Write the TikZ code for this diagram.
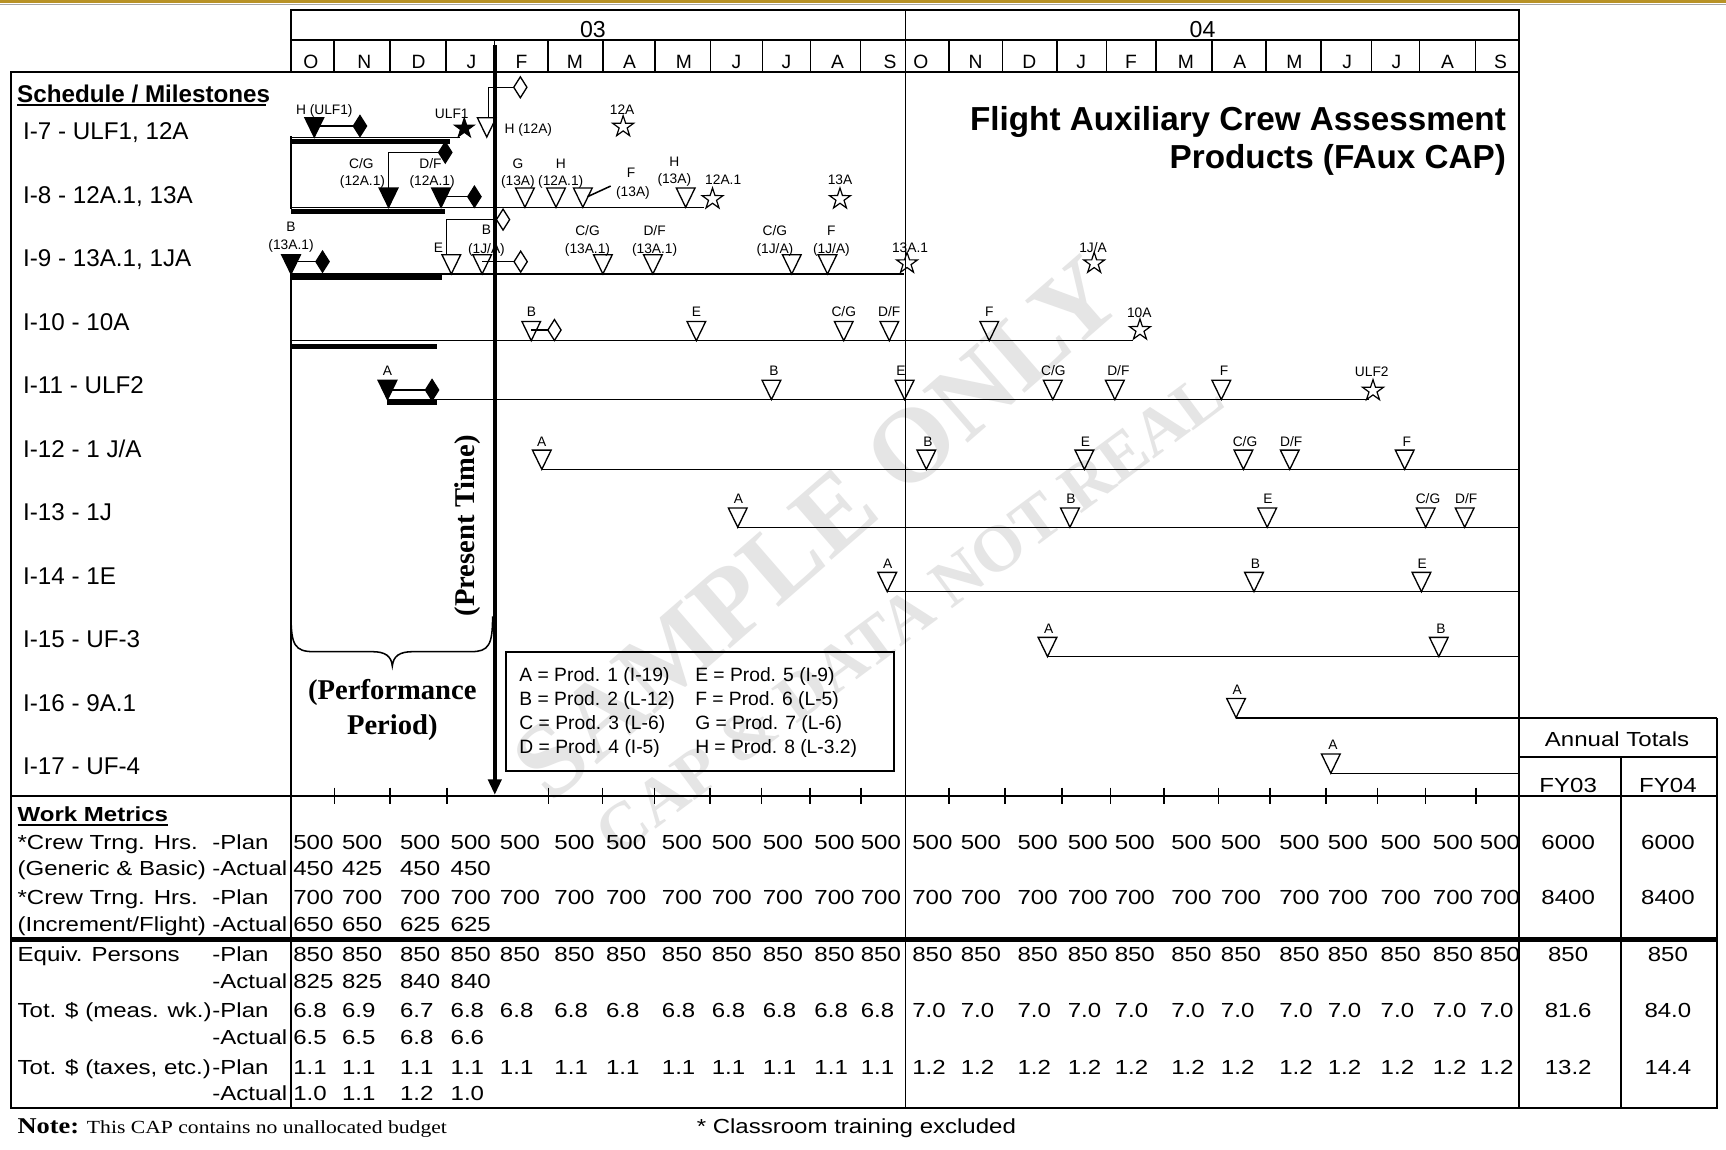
\documentclass[tikz,border=0pt]{standalone}
\usepackage{fontspec}
\setmainfont{Liberation Sans}
\newfontfamily\wf[FakeStretch=1.18]{Liberation Sans}
\newfontfamily\tmf{Liberation Serif}
\newfontfamily\tmwf[FakeStretch=1.17]{Liberation Serif}
\usetikzlibrary{shapes.geometric,arrows.meta}
\definecolor{goldbar}{RGB}{184,146,38}
\definecolor{wmark}{RGB}{229,229,229}
\newcounter{nn}
\newcommand\lab[3]{\stepcounter{nn}\node[sm] (lab\thenn) at (#1,#2) {#3};}
\newcommand\otri[2]{\draw[mk] ({#1-8.5},{#2-17.5}) -- ({#1+8.5},{#2-17.5}) -- (#1,#2) -- cycle;}
\newcommand\ftri[2]{\filldraw[mk] ({#1-8.5},{#2-17.5}) -- ({#1+8.5},{#2-17.5}) -- (#1,#2) -- cycle;}
\newcommand\odia[2]{\draw[mk] ({#1-6},#2) -- (#1,{#2-9.5}) -- ({#1+6},#2) -- (#1,{#2+9.5}) -- cycle;}
\newcommand\fdia[2]{\filldraw[mk] ({#1-6},#2) -- (#1,{#2-9.5}) -- ({#1+6},#2) -- (#1,{#2+9.5}) -- cycle;}
\begin{document}
\begin{tikzpicture}[x=1pt,y=-1pt,
  every node/.style={inner sep=0pt,outer sep=0pt},
  ln/.style={line width=1.6pt},
  bl/.style={line width=1.4pt},
  thickbar/.style={line width=4.3pt},
  mk/.style={line width=1.2pt,line join=miter},
  st/.style={star,star points=5,star point ratio=2.6,minimum size=20pt,inner sep=0pt,line width=1.1pt,draw},
  rl/.style={anchor=base west,font=\fontsize{22}{26}\selectfont},
  mon/.style={anchor=base,font=\fontsize{17.5}{20}\selectfont},
  yr/.style={anchor=base,font=\fontsize{21}{24}\selectfont},
  sm/.style={anchor=base,font=\fontsize{12.5}{14}\selectfont},
  tb/.style={anchor=base west,font=\wf\fontsize{18.5}{22}\selectfont},
  tbc/.style={anchor=base,font=\wf\fontsize{18.5}{22}\selectfont},
  leg/.style={anchor=base west,font=\fontsize{17.5}{20}\selectfont},
  serifb/.style={anchor=base,font=\tmf\bfseries\fontsize{26}{30}\selectfont}]
\useasboundingbox (0,0) rectangle (1568,1044);
\fill[white] (0,0) rectangle (1568,1044);
\fill[goldbar] (0,0) rectangle (1568,3);
\draw[black!35,line width=1pt] (0,4.3) -- (1568,4.3);

% watermark
\node[font=\tmf\bfseries\fontsize{96}{100}\selectfont,text=wmark,rotate=41] (wm1) at (742,480) {SAMPLE ONLY};
\node[font=\tmf\bfseries\fontsize{60}{64}\selectfont,text=wmark,rotate=36.6] (wm2) at (826,558) {CAP \& DATA NOT REAL};

% header box
\draw[ln] (264.4,65.1) -- (264.4,9.1) -- (1380.2,9.1) -- (1380.2,1006.8);
\draw[ln] (264.4,36.3) -- (1380.2,36.3);
\draw[ln] (264.4,65.1) -- (1380.2,65.1);
\draw[ln] (822.5,9.1) -- (822.5,1006.8);
\foreach \x in {303.4,354.6,405.5,449.3,497.8,547.6,595.3,645.5,692.6,736.4,781.8,862.1,910.7,960.2,1005.3,1049.9,1100.9,1150.4,1199.9,1245.9,1289.5,1340.5}
  \draw[ln] (\x,36.3) -- (\x,65.1);
\node[yr] (y03) at (538.6,34.1) {03};
\node[yr] (y04) at (1092.5,34.1) {04};
\foreach \x/\m [count=\i] in {282.3/O,330.9/N,380.3/D,428.3/J,473.7/F,522.3/M,572/A,621.3/M,669/J,714.4/J,760.8/A,808.5/S,836.5/O,886.2/N,935.2/D,982.3/J,1027.4/F,1077.4/M,1126.4/A,1175.9/M,1223.9/J,1268.5/J,1315/A,1363.1/S}
  \node[mon] (mo\i) at (\x,62.3) {\m};

% left panel and lower table frame
\draw[ln] (264.4,65.1) -- (9.7,65.1) -- (9.7,1006.8) -- (1560,1006.8) -- (1560,652);
\draw[ln] (264.4,124) -- (264.4,190);
\draw[ln] (264.4,248) -- (264.4,1006.8);
\draw[ln] (9.7,723) -- (1560,723);
\foreach \x in {303.8,354.5,406.2,498.4,547.4,594.4,645,691.9,735.6,782,862.2,913.2,965,1008.8,1057.5,1107,1153.7,1204.5,1251.3,1295,1341}
  \draw[bl] (\x,715.5) -- (\x,730);
\draw[line width=4.5pt] (9.7,853.3) -- (1560,853.3);
\draw[ln] (1380.2,688) -- (1560,688);
\draw[ln] (1472.5,688) -- (1472.5,1006.8);

% title
\node[anchor=base east,font=\bfseries\fontsize{30.2}{34}\selectfont] (t1) at (1368,118.2) {Flight Auxiliary Crew Assessment};
\node[anchor=base east,font=\bfseries\fontsize{30.2}{34}\selectfont] (t2) at (1368,153) {Products (FAux CAP)};

% left labels
\node[rl,font=\bfseries\fontsize{22}{26}\selectfont] (sched) at (15.6,92.7) {Schedule / Milestones};
\draw[line width=1.8pt] (15.6,95.6) -- (241.7,95.6);
\node[rl] (r7) at (21,126.9) {I-7 - ULF1, 12A};
\node[rl] (r8) at (21,184.6) {I-8 - 12A.1, 13A};
\node[rl] (r9) at (21,242.3) {I-9 - 13A.1, 1JA};
\node[rl] (r10) at (21,300) {I-10 - 10A};
\node[rl] (r11) at (21,357.7) {I-11 - ULF2};
\node[rl] (r12) at (21,415.4) {I-12 - 1 J/A};
\node[rl] (r13) at (21,473.1) {I-13 - 1J};
\node[rl] (r14) at (21,530.8) {I-14 - 1E};
\node[rl] (r15) at (21,588.5) {I-15 - UF-3};
\node[rl] (r16) at (21,646.2) {I-16 - 9A.1};
\node[rl] (r17) at (21,703.9) {I-17 - UF-4};

% ---------- I-7
\draw[bl] (264.4,125) -- (418,125);
\draw[thickbar] (264.4,128.7) -- (408.8,128.7);
\ftri{285.5}{124.5}
\draw[bl] (285.5,114.5) -- (321,114.5);
\fdia{327}{114.5}
\lab{294.6}{103.8}{H (ULF1)}
\node[st,fill=black,minimum size=18.5pt] (sULF1) at (421.8,116.6) {};
\lab{410.4}{107.5}{ULF1}
\otri{442.2}{124.5}
\draw[bl] (443.8,107) -- (443.8,79.3) -- (466.7,79.3);
\odia{472.7}{79.3}
\lab{480}{121.1}{H (12A)}
\node[st] (s12A) at (566.1,115.1) {};
\lab{565.2}{103.8}{12A}

% ---------- I-8
\draw[bl] (264.4,188.3) -- (640,188.3);
\draw[thickbar] (264.4,192) -- (404.3,192);
\fdia{404.5}{138.5}
\draw[bl] (398.5,138.5) -- (353,138.5) -- (353,170.8);
\ftri{353}{188.3}
\ftri{400.7}{188.3}
\draw[bl] (400.7,178.7) -- (425,178.7);
\fdia{431}{178.7}
\lab{328.3}{152.9}{C/G} \lab{329.3}{168.9}{(12A.1)}
\lab{391}{152.9}{D/F} \lab{392.6}{168.9}{(12A.1)}
\foreach \x in {476.9,505.1,529.5,622.9} {\otri{\x}{188.3}}
\lab{470.5}{152.9}{G} \lab{470.5}{168.9}{(13A)}
\lab{509.4}{152.9}{H} \lab{509.4}{168.9}{(12A.1)}
\draw[bl] (533.7,178.7) -- (554.8,169);
\lab{573.3}{161.4}{F} \lab{575}{178.6}{(13A)}
\lab{612.6}{151.4}{H} \lab{612.6}{166.5}{(13A)}
\node[st] (s12A1) at (647.3,180.8) {};
\lab{657}{168}{12A.1}
\node[st] (s13A) at (763.1,180.8) {};
\lab{763.1}{168}{13A}

% ---------- I-9
\draw[bl] (264.4,248.9) -- (821.5,248.9);
\draw[thickbar] (264.4,251.8) -- (401.5,251.8);
\ftri{264.4}{248.9}
\draw[bl] (264.4,237.7) -- (287,237.7);
\fdia{293}{237.7}
\lab{264.4}{210.4}{B} \lab{264.4}{227.1}{(13A.1)}
\odia{457}{199.5}
\draw[bl] (451,199.5) -- (405.8,199.5) -- (405.8,231.4);
\otri{410}{248.9}
\lab{398.4}{229.2}{E}
\otri{438}{248.9}
\draw[bl] (438,237.7) -- (467,237.7);
\odia{473}{237.7}
\lab{441.9}{212.8}{B} \lab{441.9}{230.1}{(1J/A)}
\foreach \x in {547.7,593.1,719.3,751.7} {\otri{\x}{248.9}}
\lab{533.7}{214}{C/G} \lab{533.7}{230.1}{(13A.1)}
\lab{594.7}{214}{D/F} \lab{594.7}{230.1}{(13A.1)}
\lab{704}{214}{C/G} \lab{704}{230.1}{(1J/A)}
\lab{755.3}{214}{F} \lab{755.3}{230.1}{(1J/A)}
\node[st] (s13A1) at (824,239.2) {};
\lab{826.7}{229.2}{13A.1}
\node[st] (s1JA) at (994,239.2) {};
\lab{993}{229.2}{1J/A}

% ---------- I-10
\draw[bl] (264.4,309.5) -- (1029.6,309.5);
\draw[thickbar] (264.4,314.5) -- (396.6,314.5);
\foreach \x in {482.6,632.6,766.5,807.9,898.7} {\otri{\x}{309.5}}
\draw[bl] (482.6,299.8) -- (497.7,299.8);
\odia{503.7}{299.8}
\foreach \x/\t [count=\i] in {482.9/B,632.6/E,766.5/{C/G},807.9/{D/F},898.7/F}
  \node[sm] (ra\i) at (\x,287.6) {\t};
\node[st] (s10A) at (1035.6,299.8) {};
\lab{1035}{288.5}{10A}

% ---------- I-11
\draw[bl] (352,363) -- (1243.5,363);
\draw[thickbar] (352,365.4) -- (396.6,365.4);
\ftri{352}{363}
\draw[bl] (352,354.3) -- (386.5,354.3);
\fdia{392.5}{354.3}
\foreach \x in {700.8,821.8,956.4,1012.8,1109.5} {\otri{\x}{363}}
\foreach \x/\t [count=\i] in {352/A,703/B,818.4/E,957/{C/G},1016/{D/F},1112/F}
  \node[sm] (rb\i) at (\x,341.5) {\t};
\node[st] (sULF2) at (1247.3,354.9) {};
\lab{1246.2}{342.1}{ULF2}

% ---------- I-12
\draw[bl] (492.2,426.4) -- (1380.2,426.4);
\foreach \x in {492.2,841.5,985.1,1129.6,1171.7,1276.1} {\otri{\x}{426.4}}
\foreach \x/\t [count=\i] in {492.2/A,843/B,986/E,1131/{C/G},1173/{D/F},1278/F}
  \node[sm] (rc\i) at (\x,405.7) {\t};

% ---------- I-13
\draw[bl] (670.2,479) -- (1380.2,479);
\foreach \x in {670.2,972,1151.2,1295.2,1330.6} {\otri{\x}{479}}
\foreach \x/\t [count=\i] in {670.8/A,973/B,1151.8/E,1297.3/{C/G},1332/{D/F}}
  \node[sm] (rd\i) at (\x,457.5) {\t};

% ---------- I-14
\draw[bl] (806,537.5) -- (1380.2,537.5);
\foreach \x in {806,1139.2,1291.3} {\otri{\x}{537.5}}
\foreach \x/\t [count=\i] in {806.5/A,1140.6/B,1292/E}
  \node[sm] (re\i) at (\x,516.3) {\t};

% ---------- I-15
\draw[bl] (951.6,596.5) -- (1380.2,596.5);
\foreach \x in {951.6,1307.1} {\otri{\x}{596.5}}
\foreach \x/\t [count=\i] in {952.6/A,1309/B}
  \node[sm] (rf\i) at (\x,575.3) {\t};

% ---------- I-16
\draw[ln] (1122.9,652) -- (1560,652);
\otri{1122.9}{652}
\node[sm] (rg1) at (1124,631.3) {A};

% ---------- I-17
\draw[bl] (1209,702.5) -- (1380.2,702.5);
\otri{1209}{702.5}
\node[sm] (rh1) at (1211,681.3) {A};

% present time
\coordinate (pt0) at (449.5,40.9);
\coordinate (pt1) at (449.5,722);
\draw[line width=3.2pt,-{Triangle[length=14pt,width=12pt]}] (pt0) -- (pt1);
\node[font=\tmf\bfseries\fontsize{26}{30}\selectfont,rotate=90] (ptime) at (425,477.7) {(Present Time)};

% brace
\draw[bl] (264.4,560) .. controls (264.4,586) and (268,592) .. (285,592) -- (338,592)
  .. controls (350,592) and (355.5,596) .. (356.4,605)
  .. controls (357.3,596) and (363,592) .. (375,592) -- (428,592)
  .. controls (444,592) and (447.5,586) .. (447.5,560);
\node[serifb] (perf1) at (356.4,635.4) {(Performance};
\node[serifb] (perf2) at (356.4,667.2) {Period)};

% legend
\draw[line width=1.6pt] (459.6,592) rectangle (812.2,700.1);
\node[leg] (lA) at (471.9,619.5) {A = Prod. 1 (I-19)};
\node[leg] (lB) at (471.9,640.7) {B = Prod. 2 (L-12)};
\node[leg] (lC) at (471.9,662.5) {C = Prod. 3 (L-6)};
\node[leg] (lD) at (471.9,684.6) {D = Prod. 4 (I-5)};
\node[leg] (lE) at (631.6,619.5) {E = Prod. 5 (I-9)};
\node[leg] (lF) at (631.6,640.7) {F = Prod. 6 (L-5)};
\node[leg] (lG) at (631.6,662.5) {G = Prod. 7 (L-6)};
\node[leg] (lH) at (631.6,684.6) {H = Prod. 8 (L-3.2)};

% annual totals header
\node[tbc] (anT) at (1469,678.2) {Annual Totals};
\node[tbc] (fy3) at (1424.6,719.9) {FY03};
\node[tbc] (fy4) at (1515.2,719.9) {FY04};

% work metrics labels
\node[tb,font=\wf\bfseries\fontsize{18.5}{22}\selectfont] (wmt) at (16,746.6) {Work Metrics};
\draw[line width=1.6pt] (16,749.4) -- (152.5,749.4);
\node[tb] (c1) at (16,771.4) {*Crew Trng. Hrs.};
\node[tb] (c1p) at (193,771.4) {-Plan};
\node[tb] (c2) at (16,795.6) {(Generic \& Basic)};
\node[tb] (c2a) at (193,795.6) {-Actual};
\node[tb] (c3) at (16,821.4) {*Crew Trng. Hrs.};
\node[tb] (c3p) at (193,821.4) {-Plan};
\node[tb] (c4) at (16,846.2) {(Increment/Flight)};
\node[tb] (c4a) at (193,846.2) {-Actual};
\node[tb] (c5) at (16,873.5) {Equiv. Persons};
\node[tb] (c5p) at (193,873.5) {-Plan};
\node[tb] (c6a) at (193,897.7) {-Actual};
\node[tb] (c7) at (16,924.3) {Tot. \$ (meas. wk.)};
\node[tb] (c7p) at (193,924.3) {-Plan};
\node[tb] (c8a) at (193,948.6) {-Actual};
\node[tb] (c9) at (16,976.4) {Tot. \$ (taxes, etc.)};
\node[tb] (c9p) at (193,976.4) {-Plan};
\node[tb] (c10a) at (193,1000) {-Actual};

% data
\def\LL{266.5,310.8,363.5,409.4,454.2,503.7,550.6,601.3,646.6,693,739.9,782,828.8,872.9,924.4,970,1012.7,1064.1,1109.2,1162.2,1206.3,1254.3,1301.8,1344.5}
\foreach \x [count=\i] in \LL {
  \node[tb] (da\i) at (\x,771.4) {500};
  \node[tb] (dc\i) at (\x,821.4) {700};
  \node[tb] (de\i) at (\x,873.5) {850};
  \node[tb] (di\i) at (\x,976.4) {\ifnum\i<13 1.1\else 1.2\fi};
}
\foreach \x/\v [count=\i] in {266.5/6.8,310.8/6.9,363.5/6.7,409.4/6.8,454.2/6.8,503.7/6.8,550.6/6.8,601.3/6.8,646.6/6.8,693/6.8,739.9/6.8,782/6.8,828.8/7.0,872.9/7.0,924.4/7.0,970/7.0,1012.7/7.0,1064.1/7.0,1109.2/7.0,1162.2/7.0,1206.3/7.0,1254.3/7.0,1301.8/7.0,1344.5/7.0}
  \node[tb] (dg\i) at (\x,924.3) {\v};
\foreach \x/\a/\b/\c/\d/\e [count=\i] in {266.5/450/650/825/6.5/1.0,310.8/425/650/825/6.5/1.1,363.5/450/625/840/6.8/1.2,409.4/450/625/840/6.6/1.0} {
  \node[tb] (db\i) at (\x,795.6) {\a};
  \node[tb] (dd\i) at (\x,846.2) {\b};
  \node[tb] (df\i) at (\x,897.7) {\c};
  \node[tb] (dh\i) at (\x,948.6) {\d};
  \node[tb] (dj\i) at (\x,1000) {\e};
}
% totals
\node[tbc] (ta3) at (1424.6,771.4) {6000}; \node[tbc] (ta4) at (1515.2,771.4) {6000};
\node[tbc] (tc3) at (1424.6,821.4) {8400}; \node[tbc] (tc4) at (1515.2,821.4) {8400};
\node[tbc] (te3) at (1424.6,873.5) {850}; \node[tbc] (te4) at (1515.2,873.5) {850};
\node[tbc] (tg3) at (1424.6,924.3) {81.6}; \node[tbc] (tg4) at (1515.2,924.3) {84.0};
\node[tbc] (ti3) at (1424.6,976.4) {13.2}; \node[tbc] (ti4) at (1515.2,976.4) {14.4};

% footer
\node[anchor=base west,font=\tmwf\bfseries\fontsize{20.5}{24}\selectfont] (note) at (16,1029.8) {Note:};
\node[anchor=base west,font=\tmwf\fontsize{16.8}{20}\selectfont] (notet) at (79,1029.8) {This CAP contains no unallocated budget};
\node[tb] (foot) at (633,1029.8) {* Classroom training excluded};
\end{tikzpicture}
\end{document}
